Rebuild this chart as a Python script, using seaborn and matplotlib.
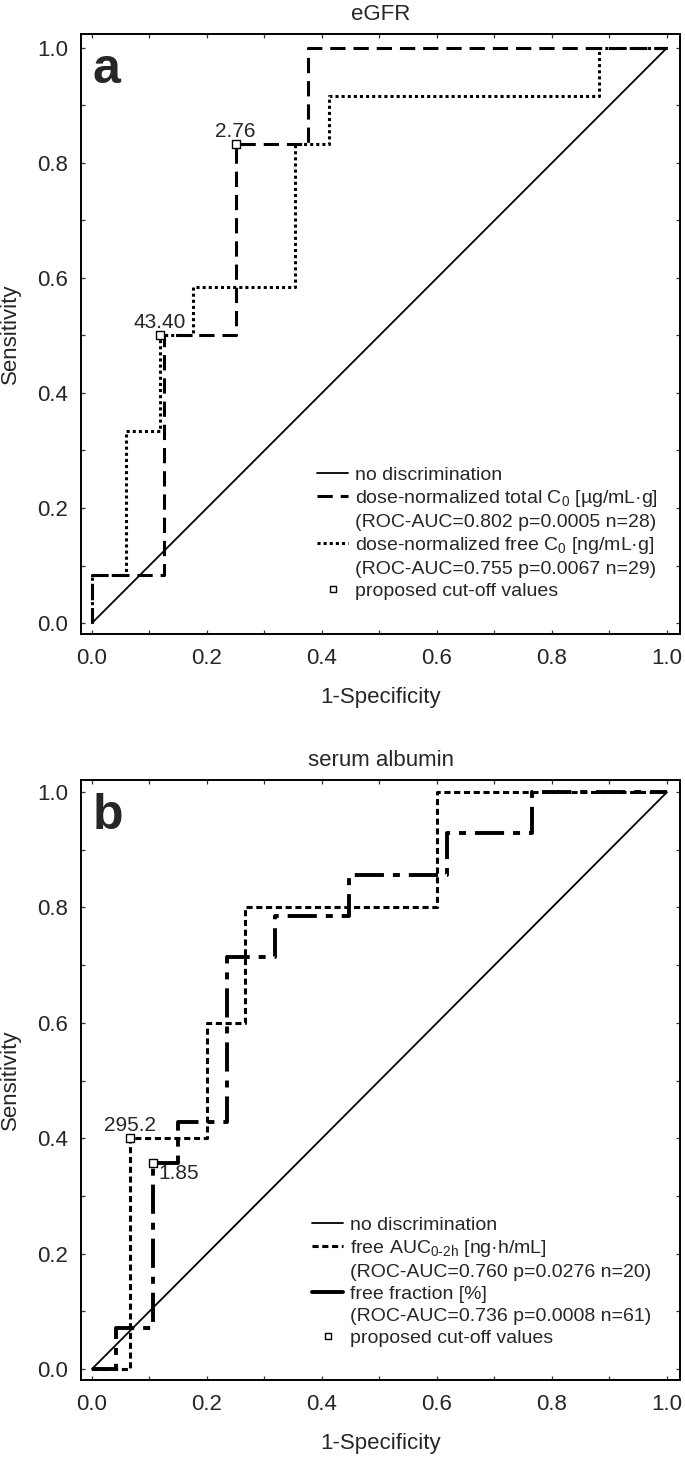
import matplotlib
matplotlib.use("Agg")
import matplotlib.pyplot as plt
from matplotlib.lines import Line2D
from matplotlib.ticker import MultipleLocator, FormatStrFormatter
import seaborn as sns

# ROC curves (FPR = 1-specificity, TPR = sensitivity)
# panel a: eGFR
total_fpr = [0, 0, 2/16, 2/16, 4/16, 4/16, 6/16, 6/16, 1.0]
total_tpr = [0, 1/12, 1/12, 6/12, 6/12, 10/12, 10/12, 1.0, 1.0]
free_fpr = [0, 0, 1/17, 1/17, 2/17, 2/17, 3/17, 3/17, 6/17, 6/17, 7/17, 7/17, 15/17, 15/17, 1.0]
free_tpr = [0, 1/12, 1/12, 4/12, 4/12, 6/12, 6/12, 7/12, 7/12, 10/12, 10/12, 11/12, 11/12, 1.0, 1.0]
cut_a_x = [2/17, 4/16]
cut_a_y = [6/12, 10/12]
cut_a_lab = ["43.40", "2.76"]

# panel b: serum albumin
auc_fpr = [0, 1/15, 1/15, 3/15, 3/15, 4/15, 4/15, 9/15, 9/15, 1.0]
auc_tpr = [0, 0, 0.4, 0.4, 0.6, 0.6, 0.8, 0.8, 1.0, 1.0]
ff_fpr = [0, 2/47, 2/47, 5/47, 5/47, 7/47, 7/47, 11/47, 11/47, 15/47, 15/47,
          21/47, 21/47, 29/47, 29/47, 36/47, 36/47, 1.0]
ff_tpr = [0, 0, 1/14, 1/14, 5/14, 5/14, 6/14, 6/14, 10/14, 10/14, 11/14,
          11/14, 12/14, 12/14, 13/14, 13/14, 1.0, 1.0]
cut_b_x = [1/15, 5/47]
cut_b_y = [0.4, 5/14]
cut_b_lab = ["295.2", "1.85"]

diag = [0, 1]

sns.set_theme(style="ticks")
plt.rcParams["font.family"] = ["Liberation Sans", "DejaVu Sans"]
plt.rcParams["mathtext.fontset"] = "custom"
plt.rcParams["mathtext.rm"] = "Liberation Sans"
plt.rcParams["mathtext.it"] = "Liberation Sans:italic"
plt.rcParams["mathtext.bf"] = "Liberation Sans:bold"

fig = plt.figure(figsize=(6.85, 14.57), dpi=100)
ax_a = fig.add_axes([81/685, 1 - 634/1457, 599/685, 600/1457])
ax_b = fig.add_axes([81/685, 1 - 1380/1457, 599/685, 600/1457])

dash_total = (0, (5.0, 2.6))
dot_free = (0, (1.0, 1.0))
dash_auc = (0, (2.0, 1.2))
dashdot_ff = (0, (7.5, 2.3, 1.8, 2.3))


def style_axes(ax, title, letter, ytop):
    ax.set_xlim(-0.019, 1.0226)
    ax.set_ylim(-0.019, ytop)
    ax.xaxis.set_major_locator(MultipleLocator(0.2))
    ax.yaxis.set_major_locator(MultipleLocator(0.2))
    ax.xaxis.set_minor_locator(MultipleLocator(0.1))
    ax.yaxis.set_minor_locator(MultipleLocator(0.1))
    ax.xaxis.set_major_formatter(FormatStrFormatter("%.1f"))
    ax.yaxis.set_major_formatter(FormatStrFormatter("%.1f"))
    ax.tick_params(which="both", direction="in", length=3, width=0.9,
                   top=True, right=True, color="#333333")
    ax.tick_params(axis="x", which="major", labelsize=16, pad=10)
    ax.tick_params(axis="y", which="major", labelsize=16, pad=9)
    for sp in ax.spines.values():
        sp.set_linewidth(1.4)
        sp.set_color("black")
    ax.set_title(title, fontsize=16, pad=10)
    ax.set_xlabel("1-Specificity", fontsize=16, labelpad=13)
    ax.set_ylabel("Sensitivity", fontsize=16, labelpad=12)
    ax.text(0.02, 0.918, letter, transform=ax.transAxes, fontsize=36,
            fontweight="bold", ha="left", va="baseline")


def legend_rows(ax, handles, labels, anchor):
    ax.legend(handles, labels, loc="upper left", bbox_to_anchor=anchor,
              frameon=False, fontsize=14, handlelength=1.6, handletextpad=0.35,
              labelspacing=0.22, borderpad=0, borderaxespad=0, numpoints=1)


cut_handle = Line2D([], [], color="none", marker="s", markersize=5,
                    markerfacecolor="white", markeredgecolor="black",
                    markeredgewidth=1.0)
blank = Line2D([], [], color="none")

# ---- panel a
ax = ax_a
sns.lineplot(x=diag, y=diag, ax=ax, color="black", linewidth=1.3)
sns.lineplot(x=total_fpr, y=total_tpr, ax=ax, sort=False, estimator=None,
             color="black", linewidth=2.2, linestyle=dash_total)
sns.lineplot(x=free_fpr, y=free_tpr, ax=ax, sort=False, estimator=None,
             color="black", linewidth=2.2, linestyle=dot_free)
sns.scatterplot(x=cut_a_x, y=cut_a_y, ax=ax, marker="s", s=30,
                facecolor="white", edgecolor="black", linewidth=1.0, zorder=5)
for xx, yy, lab in zip(cut_a_x, cut_a_y, cut_a_lab):
    ax.annotate(lab, (xx, yy), xytext=(0, 5), textcoords="offset points",
                ha="center", va="baseline", fontsize=15)
style_axes(ax, "eGFR", "a", 1.024)

handles_a = [
    Line2D([], [], color="black", linewidth=1.3),
    Line2D([], [], color="black", linewidth=2.2, linestyle=dash_total),
    blank,
    Line2D([], [], color="black", linewidth=2.2, linestyle=dot_free),
    blank,
    cut_handle,
]
labels_a = [
    "no discrimination",
    r"dose-normalized total C$\mathregular{_0}$ [µg/mL·g]",
    "(ROC-AUC=0.802 p=0.0005 n=28)",
    r"dose-normalized free C$\mathregular{_0}$ [ng/mL·g]",
    "(ROC-AUC=0.755 p=0.0067 n=29)",
    "proposed cut-off values",
]
legend_rows(ax, handles_a, labels_a, (0.394, 0.280))

# ---- panel b
ax = ax_b
sns.lineplot(x=diag, y=diag, ax=ax, color="black", linewidth=1.3)
sns.lineplot(x=auc_fpr, y=auc_tpr, ax=ax, sort=False, estimator=None,
             color="black", linewidth=2.2, linestyle=dash_auc)
sns.lineplot(x=ff_fpr, y=ff_tpr, ax=ax, sort=False, estimator=None,
             color="black", linewidth=2.8, linestyle=dashdot_ff)
sns.scatterplot(x=cut_b_x, y=cut_b_y, ax=ax, marker="s", s=30,
                facecolor="white", edgecolor="black", linewidth=1.0, zorder=5)
ax.annotate(cut_b_lab[0], (cut_b_x[0], cut_b_y[0]), xytext=(0, 5),
            textcoords="offset points", ha="center", va="baseline", fontsize=15)
ax.annotate(cut_b_lab[1], (cut_b_x[1], cut_b_y[1]), xytext=(4, -1),
            textcoords="offset points", ha="left", va="top", fontsize=15)
style_axes(ax, "serum albumin", "b", 1.021)

handles_b = [
    Line2D([], [], color="black", linewidth=1.3),
    Line2D([], [], color="black", linewidth=2.2, linestyle=dash_auc),
    blank,
    Line2D([], [], color="black", linewidth=2.8),
    blank,
    cut_handle,
]
labels_b = [
    "no discrimination",
    r"free AUC$\mathregular{_{0\text{-}2h}}$ [ng·h/mL]",
    "(ROC-AUC=0.760 p=0.0276 n=20)",
    "free fraction [%]",
    "(ROC-AUC=0.736 p=0.0008 n=61)",
    "proposed cut-off values",
]
legend_rows(ax, handles_b, labels_b, (0.386, 0.273))

fig.savefig("out.png", dpi=100, facecolor="white")
